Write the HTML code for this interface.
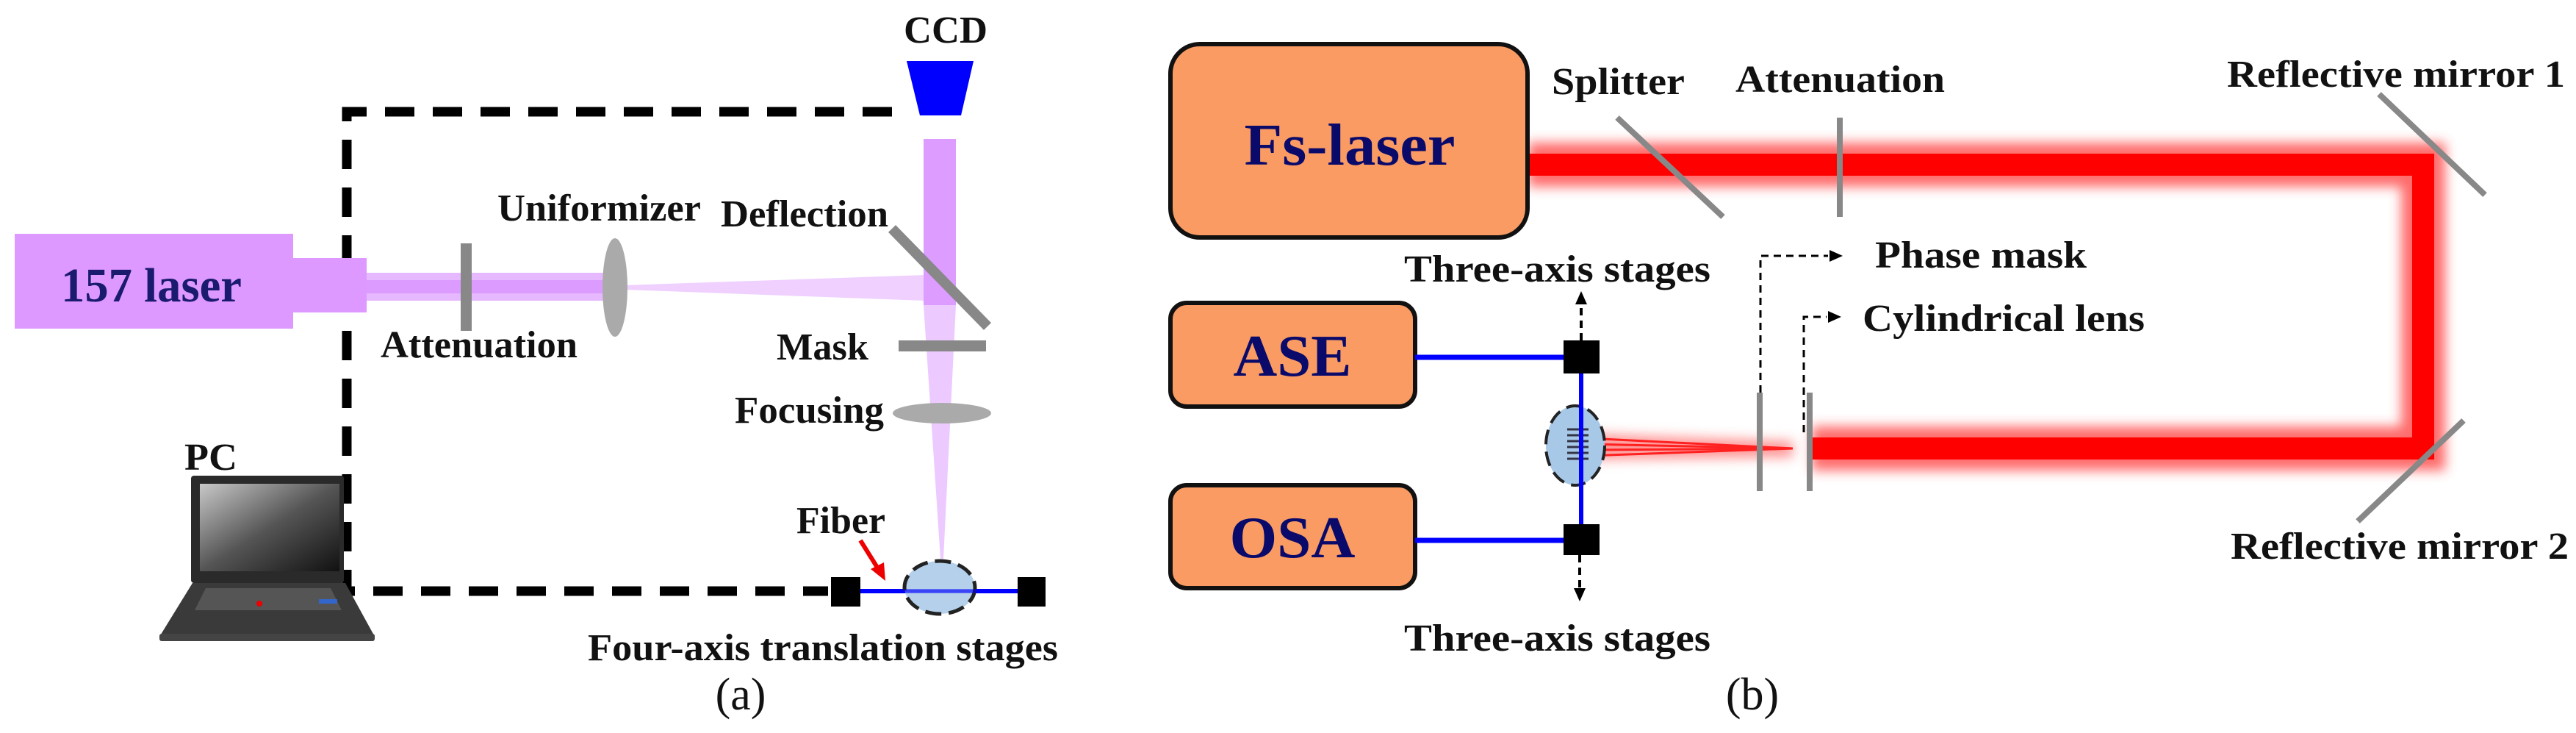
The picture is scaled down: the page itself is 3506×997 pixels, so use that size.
<!DOCTYPE html>
<html><head><meta charset="utf-8"><style>
html,body{margin:0;padding:0;background:#fff;}
svg{display:block;}
text{font-family:"Liberation Serif",serif;font-weight:bold;fill:#111;}
</style></head><body>
<svg width="3506" height="997" viewBox="0 0 3506 997" xmlns="http://www.w3.org/2000/svg">
<defs>
<linearGradient id="scr" x1="0" y1="0" x2="1" y2="1"><stop offset="0" stop-color="#c8c8c8"/><stop offset="0.5" stop-color="#555"/><stop offset="1" stop-color="#111"/></linearGradient>
<filter id="glow" x="-10%" y="-50%" width="120%" height="200%"><feGaussianBlur stdDeviation="8"/></filter>
</defs>

<!-- ===== (a) ===== -->
<!-- dashed connection -->
<path d="M1214 152 H472 V804 H1127" fill="none" stroke="#000" stroke-width="13" stroke-dasharray="40 25"/>
<!-- CCD -->
<polygon points="1234,83 1325,83 1308,157 1252,157" fill="#0000ff"/>
<text x="1287" y="58" font-size="52" text-anchor="middle" textLength="114" lengthAdjust="spacingAndGlyphs">CCD</text>
<!-- 157 laser -->
<rect x="20" y="318" width="379" height="129" fill="#dd99ff"/>
<rect x="399" y="351" width="100" height="74" fill="#dd99ff"/>
<text x="206" y="410" font-size="66" text-anchor="middle" fill="#1a1a6e" style="fill:#1a1a6e" textLength="246" lengthAdjust="spacingAndGlyphs">157 laser</text>
<!-- beam -->
<rect x="499" y="371" width="330" height="38" fill="#e6b8ff"/>
<rect x="499" y="381" width="330" height="18" fill="#dc9cff"/>
<polygon points="850,388 1260,374 1260,409 850,394" fill="#efd0ff"/>
<!-- vertical beam -->
<rect x="1257" y="189" width="44" height="226" fill="#dd9cff"/>
<polygon points="1257,415 1301,415 1284,760 1280,760" fill="#eccaff"/>
<!-- attenuation plate -->
<rect x="627" y="331" width="15" height="119" fill="#888"/>
<!-- uniformizer lens -->
<ellipse cx="837" cy="391" rx="17" ry="67" fill="#aaa"/>
<!-- deflection -->
<line x1="1214" y1="311" x2="1344" y2="444" stroke="#888" stroke-width="14"/>
<!-- mask -->
<rect x="1223" y="463" width="119" height="15" fill="#888"/>
<!-- focusing -->
<ellipse cx="1282" cy="562" rx="67" ry="14" fill="#aaa"/>
<!-- stage -->
<line x1="1171" y1="804" x2="1385" y2="804" stroke="#0000ff" stroke-width="6"/>
<rect x="1131" y="785" width="40" height="40" fill="#000"/>
<rect x="1385" y="785" width="38" height="40" fill="#000"/>
<ellipse cx="1279" cy="799" rx="48" ry="36" fill="#a8c8e8" fill-opacity="0.85" stroke="#222" stroke-width="5" stroke-dasharray="22 10"/>
<line x1="1171" y1="804" x2="1385" y2="804" stroke="#0000ff" stroke-width="5" stroke-opacity="0.6"/>
<!-- red arrow -->
<line x1="1171" y1="735" x2="1196" y2="775" stroke="#e00" stroke-width="6"/>
<polygon points="1205,790 1185,774 1203,765" fill="#e00"/>
<!-- laptop -->
<rect x="260" y="647" width="208" height="146" rx="4" fill="#2a2a2a"/>
<rect x="272" y="658" width="190" height="119" fill="url(#scr)"/>
<polygon points="262,793 470,793 510,866 217,866" fill="#3a3a3a"/>
<polygon points="280,800 450,800 465,830 265,830" fill="#555"/>
<rect x="217" y="862" width="293" height="10" rx="3" fill="#444"/>
<circle cx="353" cy="821" r="4" fill="#e00"/>
<rect x="434" y="815" width="25" height="6" fill="#3366cc"/>
<!-- labels (a) -->
<text x="677" y="300" font-size="52" textLength="277" lengthAdjust="spacingAndGlyphs">Uniformizer</text>
<text x="981" y="308" font-size="52" textLength="228" lengthAdjust="spacingAndGlyphs">Deflection</text>
<text x="518" y="486" font-size="52" textLength="268" lengthAdjust="spacingAndGlyphs">Attenuation</text>
<text x="1057" y="489" font-size="52" textLength="125" lengthAdjust="spacingAndGlyphs">Mask</text>
<text x="1000" y="575" font-size="52" textLength="203" lengthAdjust="spacingAndGlyphs">Focusing</text>
<text x="251" y="639" font-size="52" textLength="72" lengthAdjust="spacingAndGlyphs">PC</text>
<text x="1084" y="725" font-size="52" textLength="121" lengthAdjust="spacingAndGlyphs">Fiber</text>
<text x="800" y="898" font-size="52" textLength="640" lengthAdjust="spacingAndGlyphs">Four-axis translation stages</text>
<text x="1008" y="965" font-size="62" text-anchor="middle" style="font-weight:normal">(a)</text>

<!-- ===== (b) ===== -->
<!-- red beam glow -->
<g filter="url(#glow)" opacity="0.75">
<path d="M2080 224 H3298 V610 H2466" fill="none" stroke="#ff3a3a" stroke-width="60"/>
</g>
<path d="M2080 224 H3298 V610 H2466" fill="none" stroke="#ff0000" stroke-width="30"/>
<!-- fan to fiber -->
<g filter="url(#glow)" opacity="0.6"><polygon points="2160,590 2440,600 2440,622 2160,625" fill="#ff5050"/></g>
<g stroke="#ff2020" stroke-width="3">
<line x1="2160" y1="596" x2="2440" y2="610"/><line x1="2160" y1="604" x2="2440" y2="610"/>
<line x1="2160" y1="612" x2="2440" y2="610"/><line x1="2160" y1="620" x2="2440" y2="610"/>
</g>
<!-- Fs-laser -->
<rect x="1593" y="60" width="486" height="263" rx="40" fill="#f99b63" stroke="#111" stroke-width="6"/>
<text x="1837" y="224" font-size="80" text-anchor="middle" style="fill:#0a0a6a" textLength="287" lengthAdjust="spacingAndGlyphs">Fs-laser</text>
<rect x="1593" y="412" width="333" height="141" rx="22" fill="#f99b63" stroke="#111" stroke-width="6"/>
<text x="1759" y="511" font-size="80" text-anchor="middle" style="fill:#0a0a6a" textLength="161" lengthAdjust="spacingAndGlyphs">ASE</text>
<rect x="1593" y="660" width="333" height="140" rx="22" fill="#f99b63" stroke="#111" stroke-width="6"/>
<text x="1759" y="758" font-size="80" text-anchor="middle" style="fill:#0a0a6a" textLength="171" lengthAdjust="spacingAndGlyphs">OSA</text>
<!-- blue lines & stages -->
<line x1="1926" y1="486" x2="2130" y2="486" stroke="#0000ff" stroke-width="7"/>
<line x1="1926" y1="735" x2="2130" y2="735" stroke="#0000ff" stroke-width="7"/>
<ellipse cx="2144" cy="606" rx="40" ry="54" fill="#a8c8e8" stroke="#222" stroke-width="4" stroke-dasharray="20 10"/>
<g stroke="#334" stroke-width="3">
<line x1="2133" y1="584" x2="2162" y2="584"/><line x1="2133" y1="592" x2="2162" y2="592"/><line x1="2133" y1="600" x2="2162" y2="600"/>
<line x1="2133" y1="608" x2="2162" y2="608"/><line x1="2133" y1="616" x2="2162" y2="616"/><line x1="2133" y1="624" x2="2162" y2="624"/>
</g>
<line x1="2152" y1="507" x2="2152" y2="715" stroke="#0000ff" stroke-width="6"/>
<rect x="2128" y="463" width="49" height="45" fill="#000"/>
<rect x="2128" y="713" width="49" height="42" fill="#000"/>
<line x1="2152" y1="463" x2="2152" y2="410" stroke="#000" stroke-width="4" stroke-dasharray="10 7"/>
<polygon points="2152,396 2144,414 2160,414" fill="#000"/>
<line x1="2150" y1="755" x2="2150" y2="805" stroke="#000" stroke-width="4" stroke-dasharray="10 7"/>
<polygon points="2150,818 2142,800 2158,800" fill="#000"/>
<!-- optics -->
<line x1="2201" y1="160" x2="2345" y2="295" stroke="#888" stroke-width="8"/>
<line x1="2504" y1="160" x2="2504" y2="295" stroke="#888" stroke-width="8"/>
<line x1="3238" y1="128" x2="3382" y2="265" stroke="#888" stroke-width="8"/>
<line x1="3353" y1="572" x2="3209" y2="709" stroke="#888" stroke-width="8"/>
<line x1="2395" y1="534" x2="2395" y2="668" stroke="#888" stroke-width="8"/>
<line x1="2463" y1="534" x2="2463" y2="668" stroke="#888" stroke-width="8"/>
<!-- dashed pointers -->
<path d="M2396 534 V348 H2488" fill="none" stroke="#000" stroke-width="3" stroke-dasharray="10 7"/>
<polygon points="2508,348 2490,340 2490,356" fill="#000"/>
<path d="M2455 588 V431 H2486" fill="none" stroke="#000" stroke-width="3" stroke-dasharray="10 7"/>
<polygon points="2506,431 2488,423 2488,439" fill="#000"/>
<!-- labels (b) -->
<text x="2112" y="128" font-size="52" textLength="181" lengthAdjust="spacingAndGlyphs">Splitter</text>
<text x="2362" y="125" font-size="52" textLength="285" lengthAdjust="spacingAndGlyphs">Attenuation</text>
<text x="3031" y="118" font-size="52" textLength="460" lengthAdjust="spacingAndGlyphs">Reflective mirror 1</text>
<text x="3036" y="760" font-size="52" textLength="460" lengthAdjust="spacingAndGlyphs">Reflective mirror 2</text>
<text x="1911" y="383" font-size="52" textLength="417" lengthAdjust="spacingAndGlyphs">Three-axis stages</text>
<text x="1911" y="885" font-size="52" textLength="417" lengthAdjust="spacingAndGlyphs">Three-axis stages</text>
<text x="2552" y="364" font-size="52" textLength="288" lengthAdjust="spacingAndGlyphs">Phase mask</text>
<text x="2535" y="450" font-size="52" textLength="384" lengthAdjust="spacingAndGlyphs">Cylindrical lens</text>
<text x="2385" y="965" font-size="62" text-anchor="middle" style="font-weight:normal">(b)</text>
</svg>
</body></html>
